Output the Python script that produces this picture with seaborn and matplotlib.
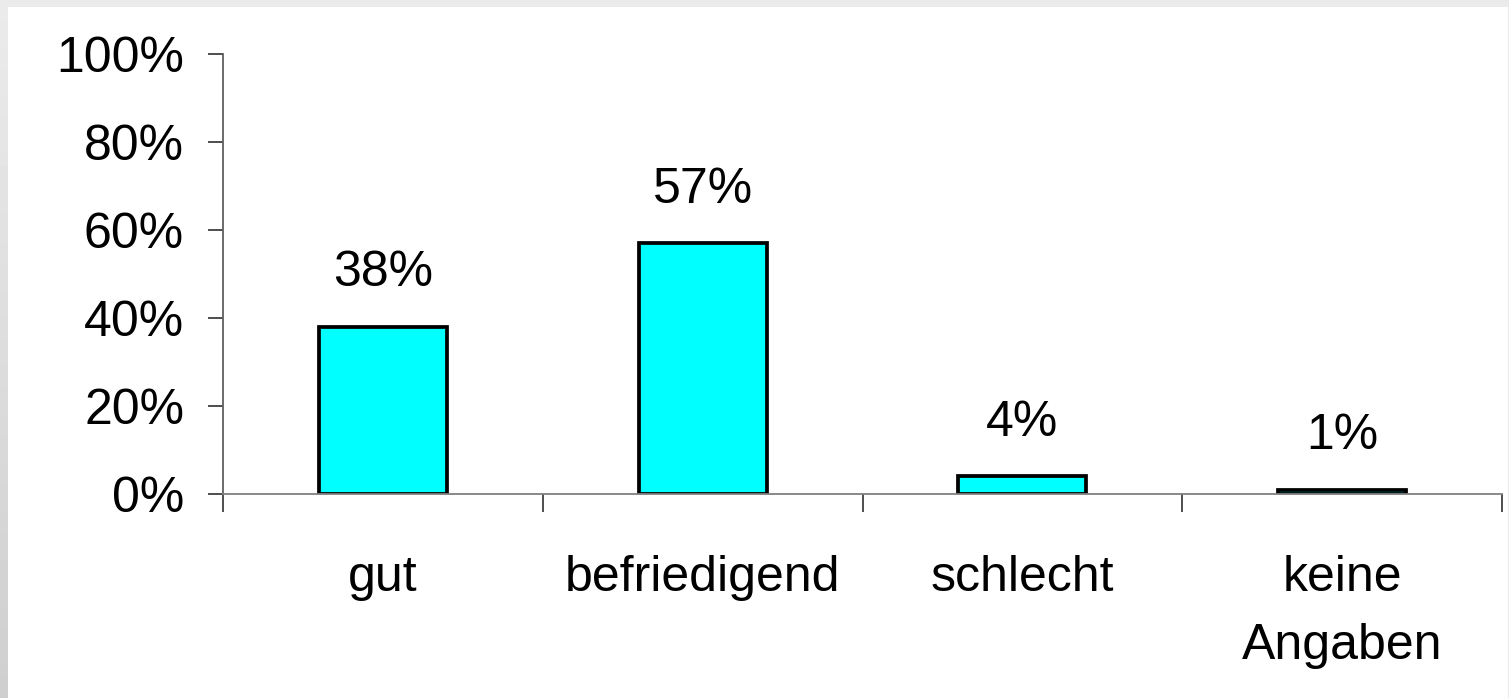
#!/usr/bin/env python3

import numpy as np
import pandas as pd
import matplotlib
matplotlib.use("Agg")
import matplotlib.pyplot as plt
from matplotlib.patches import Rectangle
from matplotlib.ticker import FixedLocator
import seaborn as sns

# data
categories = ["gut", "befriedigend", "schlecht", "keine\nAngaben"]
percent = [38, 57, 4, 1]
ytick_values = [0, 20, 40, 60, 80, 100]
ytick_labels = ["0%", "20%", "40%", "60%", "80%", "100%"]

W, H, DPI = 1509, 698, 100
FONT = 36
GRAY = "#808080"


def add_frame(fig):
    # light gray frame on top / left like the slide border
    fig.patch.set_facecolor("#ebebeb")
    fig.patches.append(Rectangle((8 / W, 0), 1 - 9 / W, 1 - 7 / H,
                                 transform=fig.transFigure, facecolor="white",
                                 edgecolor="none", zorder=-10))
    strip = fig.add_axes([0, 0, 8 / W, 1 - 7 / H])
    grad = np.linspace(0.92, 0.81, 100).reshape(-1, 1)
    strip.imshow(grad, aspect="auto", cmap="gray", vmin=0, vmax=1,
                 extent=[0, 1, 0, 1], origin="upper")
    strip.axis("off")


def main():
    sns.set_style("white")
    plt.rcParams["font.family"] = ["Liberation Sans", "DejaVu Sans"]
    plt.rcParams["text.color"] = "black"
    plt.rcParams["xtick.color"] = "black"
    plt.rcParams["ytick.color"] = "black"

    fig = plt.figure(figsize=(W / DPI, H / DPI), dpi=DPI)
    add_frame(fig)

    ax = fig.add_axes([223 / W, (H - 494) / H, (1502 - 223) / W, (494 - 54) / H])
    ax.set_facecolor("none")

    df = pd.DataFrame({"kategorie": categories, "anteil": percent})
    sns.barplot(data=df, x="kategorie", y="anteil", ax=ax, color="#00ffff",
                saturation=1, width=0.4, edgecolor="black", linewidth=2.7)
    for p in ax.patches:
        p.set_facecolor("#00ffff")

    ax.bar_label(ax.containers[0], labels=[f"{v}%" for v in percent],
                 padding=22, fontsize=FONT, color="black")

    ax.set_ylim(0, 100)
    ax.set_xlim(-0.5, len(categories) - 0.5)
    ax.set_yticks(ytick_values)
    ax.set_yticklabels(ytick_labels, fontsize=FONT)
    ax.tick_params(axis="y", direction="out", length=11, width=1.2,
                   color="#303030", labelcolor="black", pad=17, left=True)

    ax.set_xticks(range(len(categories)))
    ax.set_xticklabels(categories, fontsize=FONT, linespacing=1.6)
    ax.tick_params(axis="x", which="major", length=0, pad=44, bottom=True,
                   labelcolor="black")
    ax.xaxis.set_minor_locator(FixedLocator(np.arange(-0.5, len(categories), 1.0)))
    ax.tick_params(axis="x", which="minor", direction="out", length=13,
                   width=1.2, color="#303030", bottom=True)

    ax.set_xlabel("")
    ax.set_ylabel("")
    for side in ["top", "right"]:
        ax.spines[side].set_visible(False)
    ax.spines["left"].set_color("#606060")
    ax.spines["bottom"].set_color(GRAY)
    for side in ["left", "bottom"]:
        ax.spines[side].set_visible(True)
        ax.spines[side].set_linewidth(1.3)

    fig.savefig("out.png", dpi=DPI, facecolor=fig.get_facecolor())


if __name__ == "__main__":
    main()
